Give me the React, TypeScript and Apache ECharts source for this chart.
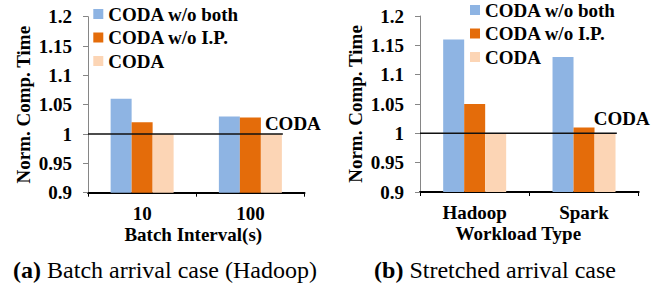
import React, { useEffect, useRef } from "react";
import * as echarts from "echarts";

const seriesNames = ["CODA w/o both", "CODA w/o I.P.", "CODA"];
const colors = ["#8EB4E3", "#E46C0A", "#FCD5B5"];

const categoriesA = ["10", "100"];
const woBothA = [1.06, 1.03];
const woIPA = [1.02, 1.028];
const codaA = [1.0, 1.0];

const categoriesB = ["Hadoop", "Spark"];
const woBothB = [1.16, 1.13];
const woIPB = [1.05, 1.01];
const codaB = [1.0, 1.0];

const yMin = 0.9;
const yMax = 1.2;
const yStep = 0.05;
const refValue = 1;
const refLabel = "CODA";
const refEnd = 1.8; // in category units (0..2)

const yTitle = "Norm. Comp. Time";
const xTitleA = "Batch Interval(s)";
const xTitleB = "Workload Type";
const captionA = ["(a)", " Batch arrival case (Hadoop)"];
const captionB = ["(b)", " Stretched arrival case"];

const FONT = "Liberation Serif";

export default function App() {
  const ref = useRef<HTMLDivElement>(null);
  useEffect(() => {
    if (!ref.current) return;
    const chart = echarts.init(ref.current, undefined, { renderer: "svg" });
    const boldText = { fontFamily: FONT, fontWeight: "bold" as const, fontSize: 19, color: "#000" };
    const grids = [
      { left: 88, top: 16.7, width: 216.5, height: 176 },
      { left: 420, top: 16, width: 218.7, height: 176 },
    ];
    const mkX = (gi: number, cats: string[], name: string, pad: number) => ({
      type: "category" as const,
      gridIndex: gi,
      data: cats,
      name,
      nameLocation: "middle" as const,
      nameGap: 35,
      nameMoveOverlap: false,
      nameTextStyle: { ...boldText, lineHeight: 13, padding: [0, pad, 0, 0] },
      axisLine: { lineStyle: { color: "#000", width: 2 } },
      axisTick: { show: true, length: 4, lineStyle: { color: "#000", width: 1 } },
      axisLabel: { ...boldText, lineHeight: 13, margin: 14 },
    });
    const mkY = (gi: number) => ({
      type: "value" as const,
      gridIndex: gi,
      min: yMin,
      max: yMax,
      interval: yStep,
      name: yTitle,
      nameLocation: "middle" as const,
      nameGap: 55,
      nameMoveOverlap: false,
      nameTextStyle: { ...boldText },
      splitLine: { show: false },
      axisLine: { show: true, lineStyle: { color: "#868686", width: 1 } },
      axisTick: { show: true, length: 5, lineStyle: { color: "#868686" } },
      axisLabel: {
        ...boldText,
        margin: 16,
        formatter: (v: number) => String(+v.toFixed(2)),
      },
    });
    const mkHiddenX = (gi: number) => ({
      type: "value" as const,
      gridIndex: gi,
      min: 0,
      max: 2,
      show: false,
    });
    const bars = (xi: number, vals: number[][]) =>
      vals.map((d, i) => ({
        name: seriesNames[i],
        type: "bar" as const,
        xAxisIndex: xi,
        yAxisIndex: xi,
        data: d,
        barWidth: 21,
        barGap: "0%",
        itemStyle: { color: colors[i] },
      }));
    const refLine = (gi: number, offset: number[], dist: number) => ({
      name: "ref" + gi,
      type: "line" as const,
      xAxisIndex: 2 + gi,
      yAxisIndex: gi,
      z: 5,
      symbol: "circle",
      symbolSize: 0.1,
      lineStyle: { color: "#111", width: 1.5 },
      itemStyle: { color: "#111" },
      data: [
        [0, refValue],
        {
          value: [refEnd, refValue],
          label: {
            show: true,
            position: "top",
            distance: dist,
            offset,
            formatter: refLabel,
            ...boldText,
          },
        },
      ],
    });
    const legend = (left: number, top: number) => ({
      orient: "vertical" as const,
      left,
      top,
      padding: 0,
      itemWidth: 10,
      itemHeight: 10,
      itemGap: 4.5,
      icon: "rect",
      data: seriesNames,
      textStyle: { ...boldText, lineHeight: 19 },
    });
    const caption = (x: number, parts: string[]) => ({
      type: "text" as const,
      x,
      y: 270,
      style: {
        text: "{b|" + parts[0] + "}{r|" + parts[1] + "}",
        align: "center",
        verticalAlign: "middle",
        rich: {
          b: { fontFamily: FONT, fontWeight: "bold", fontSize: 24, fill: "#000" },
          r: { fontFamily: FONT, fontSize: 24, fill: "#000" },
        },
      },
    });
    chart.setOption({
      animation: false,
      grid: grids,
      legend: [legend(93.3, 4.5), legend(470, 0.5)],
      xAxis: [mkX(0, categoriesA, xTitleA, 6), mkX(1, categoriesB, xTitleB, 22), mkHiddenX(0), mkHiddenX(1)],
      yAxis: [mkY(0), mkY(1)],
      series: [
        ...bars(0, [woBothA, woIPA, codaA]),
        ...bars(1, [woBothB, woIPB, codaB]),
        refLine(0, [10, 2], 3),
        refLine(1, [5, 0], 5),
      ],
      graphic: [caption(165, captionA), caption(495, captionB)],
    });
    return () => chart.dispose();
  }, []);
  return (
    <div
      ref={ref}
      style={{ position: "fixed", left: 0, top: 0, width: 663, height: 284, background: "#fff" }}
    />
  );
}
